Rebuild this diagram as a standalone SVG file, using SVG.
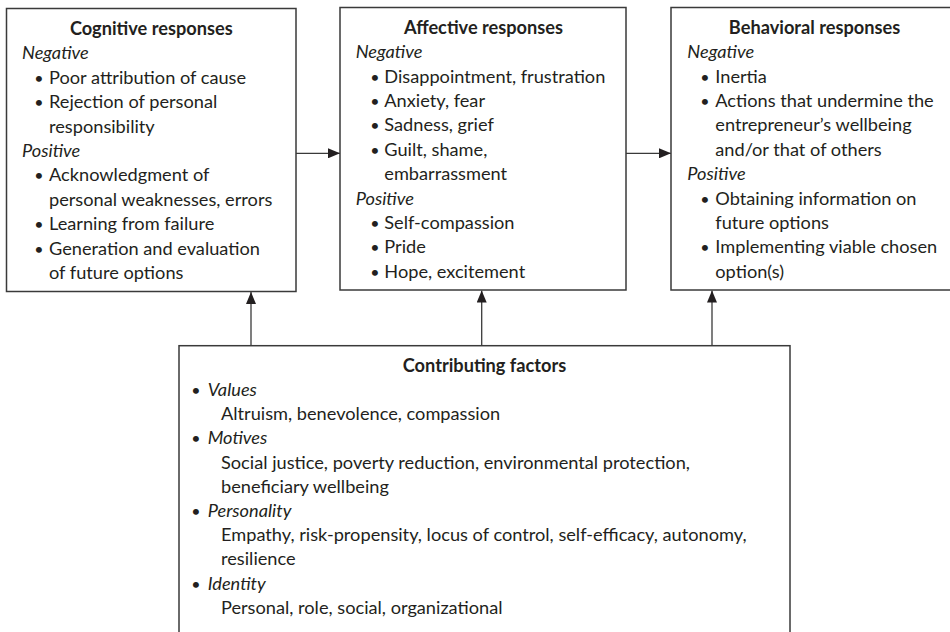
<svg xmlns="http://www.w3.org/2000/svg" width="950" height="632" viewBox="0 0 950 632">
<defs>
<marker id="ah" markerWidth="12" markerHeight="10" refX="12" refY="5" orient="auto" markerUnits="userSpaceOnUse">
<path d="M0,0 L12,5 L0,10 Z" fill="#231f20"/>
</marker>
<style>
.box{fill:#fff;stroke:#3a3a3a;stroke-width:1.5}
.t{font-family:Lato,"Liberation Sans",sans-serif;font-size:18.2px;fill:#231f20}
.h{font-weight:bold;text-anchor:middle}
.i{font-style:italic}
.b{text-anchor:middle;font-size:16px}
.c{stroke:#3a3a3a;stroke-width:1.3;fill:none;marker-end:url(#ah)}
</style>
</defs>
<rect width="950" height="632" fill="#fff"/>

<g id="connectors">
<line class="c" x1="296" y1="153.3" x2="340" y2="153.3"/>
<line class="c" x1="626" y1="153.3" x2="671" y2="153.3"/>
<line class="c" x1="251" y1="345.7" x2="251" y2="292"/>
<line class="c" x1="481.7" y1="345.7" x2="481.7" y2="290.5"/>
<line class="c" x1="712" y1="345.7" x2="712" y2="290.5"/>
</g>

<g id="cognitive">
<rect class="box" x="6.5" y="8.5" width="289.5" height="283"/>
<text class="t h" x="151.3" y="35">Cognitive responses</text>
<text class="t i" x="22" y="59.4">Negative</text>
<text class="t b" x="39" y="83.8">•</text>
<text class="t" x="49" y="83.8">Poor attribution of cause</text>
<text class="t b" x="39" y="108.2">•</text>
<text class="t" x="49" y="108.2">Rejection of personal</text>
<text class="t" x="49" y="132.6">responsibility</text>
<text class="t i" x="22" y="157">Positive</text>
<text class="t b" x="39" y="181.4">•</text>
<text class="t" x="49" y="181.4">Acknowledgment of</text>
<text class="t" x="49" y="205.8">personal weaknesses, errors</text>
<text class="t b" x="39" y="230.2">•</text>
<text class="t" x="49" y="230.2">Learning from failure</text>
<text class="t b" x="39" y="254.6">•</text>
<text class="t" x="49" y="254.6">Generation and evaluation</text>
<text class="t" x="49" y="279">of future options</text>
</g>

<g id="affective">
<rect class="box" x="340" y="7.5" width="286" height="282.5"/>
<text class="t h" x="483.5" y="33.8">Affective responses</text>
<text class="t i" x="355.7" y="58.2">Negative</text>
<text class="t b" x="375" y="82.6">•</text>
<text class="t" x="384.3" y="82.6">Disappointment, frustration</text>
<text class="t b" x="375" y="107">•</text>
<text class="t" x="384.3" y="107">Anxiety, fear</text>
<text class="t b" x="375" y="131.4">•</text>
<text class="t" x="384.3" y="131.4">Sadness, grief</text>
<text class="t b" x="375" y="155.8">•</text>
<text class="t" x="384.3" y="155.8">Guilt, shame,</text>
<text class="t" x="384.3" y="180.2">embarrassment</text>
<text class="t i" x="355.7" y="204.6">Positive</text>
<text class="t b" x="375" y="229">•</text>
<text class="t" x="384.3" y="229">Self-compassion</text>
<text class="t b" x="375" y="253.4">•</text>
<text class="t" x="384.3" y="253.4">Pride</text>
<text class="t b" x="375" y="277.8">•</text>
<text class="t" x="384.3" y="277.8">Hope, excitement</text>
</g>

<g id="behavioral">
<rect class="box" x="671" y="7.5" width="287" height="282.5"/>
<text class="t h" x="814.5" y="33.8">Behavioral responses</text>
<text class="t i" x="687.3" y="58.2">Negative</text>
<text class="t b" x="705" y="82.6">•</text>
<text class="t" x="715.3" y="82.6">Inertia</text>
<text class="t b" x="705" y="107">•</text>
<text class="t" x="715.3" y="107">Actions that undermine the</text>
<text class="t" x="715.3" y="131.4">entrepreneur’s wellbeing</text>
<text class="t" x="715.3" y="155.8">and/or that of others</text>
<text class="t i" x="687.3" y="180.2">Positive</text>
<text class="t b" x="705" y="204.6">•</text>
<text class="t" x="715.3" y="204.6">Obtaining information on</text>
<text class="t" x="715.3" y="229">future options</text>
<text class="t b" x="705" y="253.4">•</text>
<text class="t" x="715.3" y="253.4">Implementing viable chosen</text>
<text class="t" x="715.3" y="277.8">option(s)</text>
</g>

<g id="contributing">
<rect class="box" x="179" y="345.7" width="611" height="300"/>
<text class="t h" x="484.5" y="371.7">Contributing factors</text>
<text class="t b" x="196" y="395.9">•</text>
<text class="t i" x="207.7" y="395.9">Values</text>
<text class="t" x="221" y="420.1">Altruism, benevolence, compassion</text>
<text class="t b" x="196" y="444.3">•</text>
<text class="t i" x="207.7" y="444.3">Motives</text>
<text class="t" x="221" y="468.5">Social justice, poverty reduction, environmental protection,</text>
<text class="t" x="221" y="492.7">beneficiary wellbeing</text>
<text class="t b" x="196" y="516.9">•</text>
<text class="t i" x="207.7" y="516.9">Personality</text>
<text class="t" x="221" y="541.1">Empathy, risk-propensity, locus of control, self-efficacy, autonomy,</text>
<text class="t" x="221" y="565.3">resilience</text>
<text class="t b" x="196" y="589.5">•</text>
<text class="t i" x="207.7" y="589.5">Identity</text>
<text class="t" x="221" y="613.7">Personal, role, social, organizational</text>
</g>
</svg>
